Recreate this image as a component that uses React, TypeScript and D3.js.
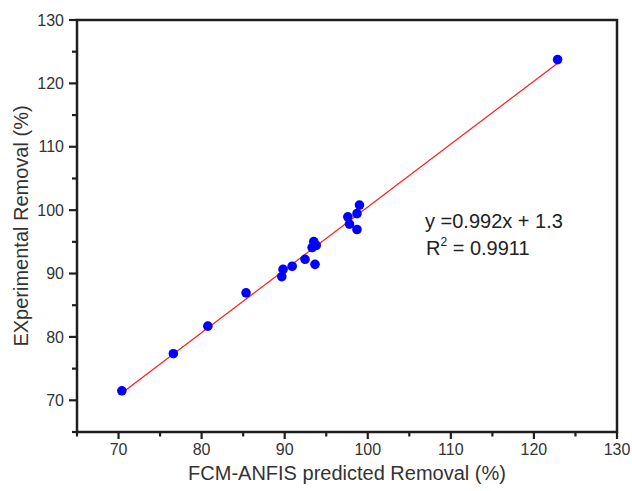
import React from "react";
import * as d3 from "d3";

const predicted = [70.4, 76.6, 80.75, 85.35, 89.65, 89.8, 90.9, 92.45, 93.65, 93.3, 93.8, 93.5, 97.6, 97.8, 98.7, 98.7, 99.0, 122.85];
const experimental = [71.5, 77.35, 81.7, 86.95, 89.5, 90.65, 91.15, 92.25, 91.45, 94.1, 94.45, 95.05, 98.95, 97.8, 99.45, 96.95, 100.8, 123.75];
const xTicks = [70, 80, 90, 100, 110, 120, 130];
const yTicks = [70, 80, 90, 100, 110, 120, 130];
const minorTicks = [65, 75, 85, 95, 105, 115, 125];
const fitSlope = 0.992;
const fitIntercept = 1.3;
const fitRange = [70.4, 122.85];
const xTitle = "FCM-ANFIS predicted Removal (%)";
const yTitle = "EXperimental Removal (%)";

export default function App() {
  const W = 632, H = 491;
  const left = 77, right = 617, top = 20, bottom = 432;
  const x = d3.scaleLinear().domain([65, 130]).range([left, right]);
  const y = d3.scaleLinear().domain([65, 130]).range([bottom, top]);
  const axisColor = "#1e1e1e";
  const textColor = "#333333";
  const font = "Arial, 'Liberation Sans', sans-serif";
  const fitLine = d3.line<number>().x((d) => x(d)).y((d) => y(fitSlope * d + fitIntercept));
  const hw = 1.25;

  return (
    <div style={{ position: "absolute", left: 0, top: 0, width: W, height: H, background: "#fff" }}>
      <svg width={W} height={H} viewBox={`0 0 ${W} ${H}`} style={{ display: "block" }} fontFamily={font}>
        <rect x={left - hw} y={top - hw} width={right - left + 2 * hw} height={bottom - top + 2 * hw} fill={axisColor} />
        <rect x={left + hw} y={top + hw} width={right - left - 2 * hw} height={bottom - top - 2 * hw} fill="#ffffff" />
        <path d={fitLine(fitRange) || ""} stroke="#ff1a1a" strokeWidth={1.2} fill="none" />
        {predicted.map((p, i) => (
          <circle key={i} cx={x(p)} cy={y(experimental[i])} r={4.8} fill="#0000ff" />
        ))}
        <g stroke={axisColor} strokeWidth={2.2}>
          {xTicks.map((t) => (
            <path key={"xt" + t} d={`M${x(t)},${bottom}V${bottom + 7}`} />
          ))}
          {minorTicks.map((t) => (
            <path key={"xm" + t} d={`M${x(t)},${bottom}V${bottom + 4.5}`} />
          ))}
          {yTicks.map((t) => (
            <path key={"yt" + t} d={`M${left - 8},${y(t)}H${left}`} />
          ))}
          {minorTicks.map((t) => (
            <path key={"ym" + t} d={`M${left - 5},${y(t)}H${left}`} />
          ))}
        </g>
        {xTicks.map((t) => (
          <text key={"xl" + t} x={x(t)} y={bottom + 22.5} textAnchor="middle" fontSize={16} fill={textColor}>{t}</text>
        ))}
        {yTicks.map((t) => (
          <text key={"yl" + t} x={64} y={y(t) + 5.7} textAnchor="end" fontSize={16} fill={textColor}>{t}</text>
        ))}
        <text x={(left + right) / 2} y={480} textAnchor="middle" fontSize={20} fill={textColor}>{xTitle}</text>
        <text transform={`translate(27.5, ${(top + bottom) / 2}) rotate(-90)`} textAnchor="middle" fontSize={20} fill={textColor}>{yTitle}</text>
        <text x={425} y={227.5} fontSize={20} fill="#222222">y =0.992x + 1.3</text>
        <text x={426} y={255} fontSize={20} fill="#222222">
          R<tspan fontSize={12} dy={-9}>2</tspan><tspan dy={9}> = 0.9911</tspan>
        </text>
      </svg>
    </div>
  );
}
